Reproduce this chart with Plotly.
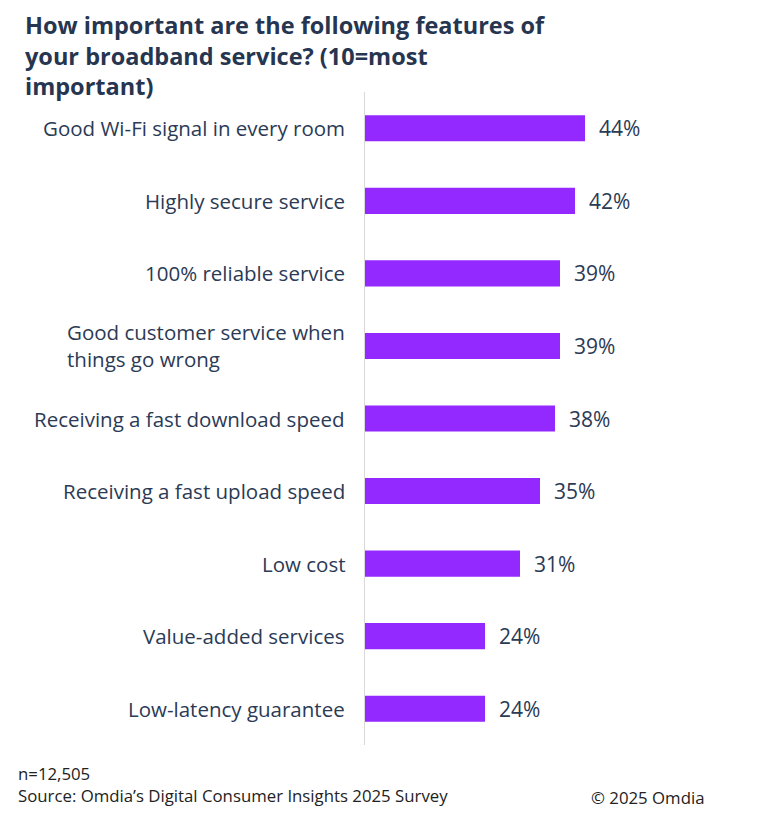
import plotly.graph_objects as go

# --- DATA ---
features = [
    "Good Wi-Fi signal in every room",
    "Highly secure service",
    "100% reliable service",
    "Good customer service when<br>things go wrong",
    "Receiving a fast download speed",
    "Receiving a fast upload speed",
    "Low cost",
    "Value-added services",
    "Low-latency guarantee",
]
shares = [44, 42, 39, 39, 38, 35, 31, 24, 24]
share_labels = ["\u00a0\u00a0" + f"{v}%" for v in shares]

# --- COLOURS ---
C_BAR = "#9328ff"
C_TEXT = "#2b3a55"
C_TITLE = "#263550"
C_AXIS = "#d9d9d9"
FONT = "Open Sans, Roboto, sans-serif"

fig = go.Figure()
fig.add_trace(go.Bar(
    x=shares, y=features, orientation="h",
    marker=dict(color=C_BAR, line=dict(width=0)),
    text=share_labels, textposition="outside", constraintext="none",
    textfont=dict(size=21, color=C_TEXT, family=FONT),
    cliponaxis=False, hoverinfo="x+y",
))

# category labels (annotations so the two-line one stays left aligned)
for f in features:
    fig.add_annotation(
        x=0, y=f, xref="x", yref="y", xanchor="right", xshift=-18,
        text=f, align="left", showarrow=False,
        font=dict(size=20.5, color=C_TEXT, family=FONT),
    )

fig.update_layout(
    width=783, height=816,
    paper_bgcolor="white", plot_bgcolor="white",
    margin=dict(l=357, r=26, t=84, b=79),
    bargap=0.64,
    showlegend=False,
    font=dict(family=FONT, color=C_TEXT, size=18),
)
fig.update_xaxes(range=[0, 80], visible=False)
fig.update_yaxes(
    autorange="reversed", showgrid=False, zeroline=False,
    showline=True, linecolor=C_AXIS, linewidth=1,
    ticks="", showticklabels=False,
)

# title
fig.add_annotation(
    xref="paper", yref="paper", x=-341 / 400, y=1 + 84 / 653, xanchor="left", yanchor="top",
    text="<b>How important are the following features of<br>your broadband service? (10=most<br>important)</b>",
    align="left", showarrow=False, borderpad=0,
    font=dict(size=23.5, color=C_TITLE, family=FONT),
)

# footer
fig.add_annotation(
    xref="paper", yref="paper", x=-349 / 400, y=-15 / 653, xanchor="left", yanchor="top",
    text="n=12,505<br>Source: Omdia\u2019s Digital Consumer Insights 2025 Survey",
    align="left", showarrow=False,
    font=dict(size=16.8, color="#222222", family=FONT),
)
fig.add_annotation(
    xref="paper", yref="paper", x=341 / 400, y=-39 / 653, xanchor="right", yanchor="top",
    text="\u00a9 2025 Omdia",
    align="right", showarrow=False,
    font=dict(size=16.8, color="#222222", family=FONT),
)

fig.write_html("out.html")
